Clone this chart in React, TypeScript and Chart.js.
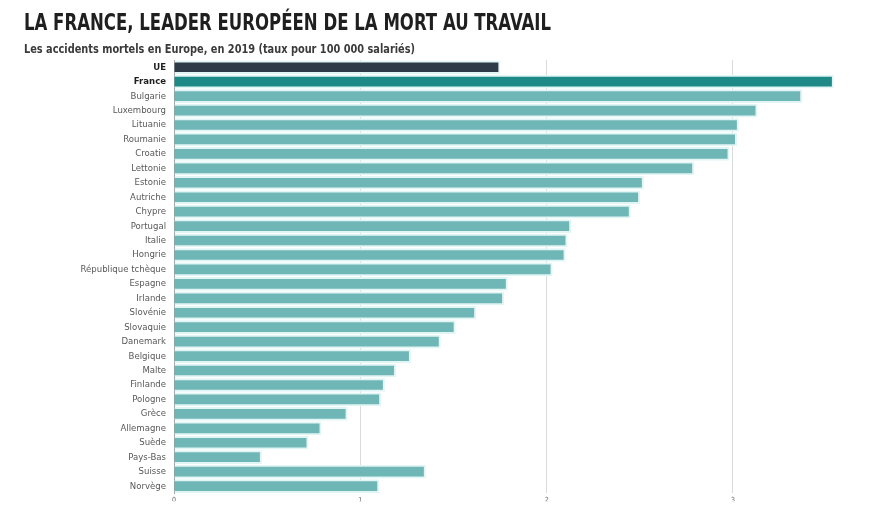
import React, { useEffect, useRef } from "react";
import { Chart, registerables } from "chart.js";

Chart.register(...registerables);

const TITLE = "LA FRANCE, LEADER EUROPÉEN DE LA MORT AU TRAVAIL";
const SUBTITLE = "Les accidents mortels en Europe, en 2019 (taux pour 100 000 salariés)";

const countries = [
  "UE", "France", "Bulgarie", "Luxembourg", "Lituanie", "Roumanie", "Croatie",
  "Lettonie", "Estonie", "Autriche", "Chypre", "Portugal", "Italie", "Hongrie",
  "République tchèque", "Espagne", "Irlande", "Slovénie", "Slovaquie", "Danemark",
  "Belgique", "Malte", "Finlande", "Pologne", "Grèce", "Allemagne", "Suède",
  "Pays-Bas", "Suisse", "Norvège",
];

const rates = [
  1.75, 3.54, 3.37, 3.13, 3.03, 3.02, 2.98,
  2.79, 2.52, 2.50, 2.45, 2.13, 2.11, 2.10,
  2.03, 1.79, 1.77, 1.62, 1.51, 1.43,
  1.27, 1.19, 1.13, 1.11, 0.93, 0.79, 0.72,
  0.47, 1.35, 1.10,
];

const xTicks = [0, 1, 2, 3];

const COLOR_UE = "#2e3a48";
const COLOR_FR = "#1d8a87";
const COLOR_OTHER = "#6fb6b7";
const HALO = "#e2f5f5";

const CONDENSED = '"DejaVu Sans Condensed", "DejaVu Sans", sans-serif';

const titlePlugin = {
  id: "customTitles",
  afterDraw(chart: any) {
    const ctx = chart.ctx;
    const drawFit = (text: string, font: string, color: string, x: number, y: number, width: number) => {
      ctx.save();
      ctx.font = font;
      ctx.fillStyle = color;
      ctx.textBaseline = "alphabetic";
      ctx.textAlign = "left";
      const w = ctx.measureText(text).width;
      ctx.translate(x, y);
      ctx.scale(width / w, 1);
      ctx.fillText(text, 0, 0);
      ctx.restore();
    };
    drawFit(TITLE, `bold 23px ${CONDENSED}`, "#1f1f1f", 24, 30, 527);
    drawFit(SUBTITLE, `bold 11.5px ${CONDENSED}`, "#3a3a3a", 24, 53, 391);
  },
};

export default function App() {
  const ref = useRef<HTMLCanvasElement | null>(null);

  useEffect(() => {
    document.body.style.margin = "0";
    const canvas = ref.current;
    if (!canvas) return;
    const colors = countries.map((_, i) => (i === 0 ? COLOR_UE : i === 1 ? COLOR_FR : COLOR_OTHER));
    const chart = new Chart(canvas, {
      type: "bar",
      data: {
        labels: countries,
        datasets: [
          {
            data: rates,
            backgroundColor: colors,
            borderColor: HALO,
            borderWidth: 2,
            borderSkipped: "start",
            barThickness: 13,
          },
        ],
      },
      plugins: [titlePlugin],
      options: {
        indexAxis: "y",
        animation: false,
        responsive: false,
        maintainAspectRatio: false,
        layout: { padding: { top: 60, right: 9, bottom: 0, left: 0 } },
        plugins: {
          legend: { display: false },
          title: { display: false },
          tooltip: { enabled: false },
        },
        scales: {
          x: {
            type: "linear",
            min: 0,
            max: 3.8,
            z: 1,
            afterBuildTicks: (scale: any) => {
              scale.ticks = xTicks.map((v) => ({ value: v }));
            },
            afterFit: (scale: any) => {
              scale.height = 8;
            },
            border: { display: false },
            grid: {
              drawTicks: false,
              tickLength: 0,
              color: (c: any) => (c.tick && c.tick.value === 0 ? "rgba(0,0,0,0)" : "#dadada"),
              lineWidth: 1,
            },
            ticks: {
              padding: 3,
              color: "#666",
              font: { size: 7, family: CONDENSED },
              callback: (v: any) => String(v),
            },
          },
          y: {
            type: "category",
            afterFit: (scale: any) => {
              scale.width = 174;
            },
            border: { display: true, color: "#9a9a9a", width: 1 },
            grid: { display: false, drawTicks: false, tickLength: 0 },
            ticks: {
              padding: 8,
              autoSkip: false,
              color: (c: any) => (c.index <= 1 ? "#1f1f1f" : "#585858"),
              font: (c: any) => ({
                size: 9.5,
                family: CONDENSED,
                weight: c.index <= 1 ? "bold" : "normal",
              }),
            },
          },
        },
      },
    });
    return () => chart.destroy();
  }, []);

  return (
    <div style={{ position: "absolute", left: 0, top: 0, width: 891, height: 507, background: "#fff" }}>
      <canvas ref={ref} width={891} height={507} style={{ width: 891, height: 507, display: "block" }} />
    </div>
  );
}
